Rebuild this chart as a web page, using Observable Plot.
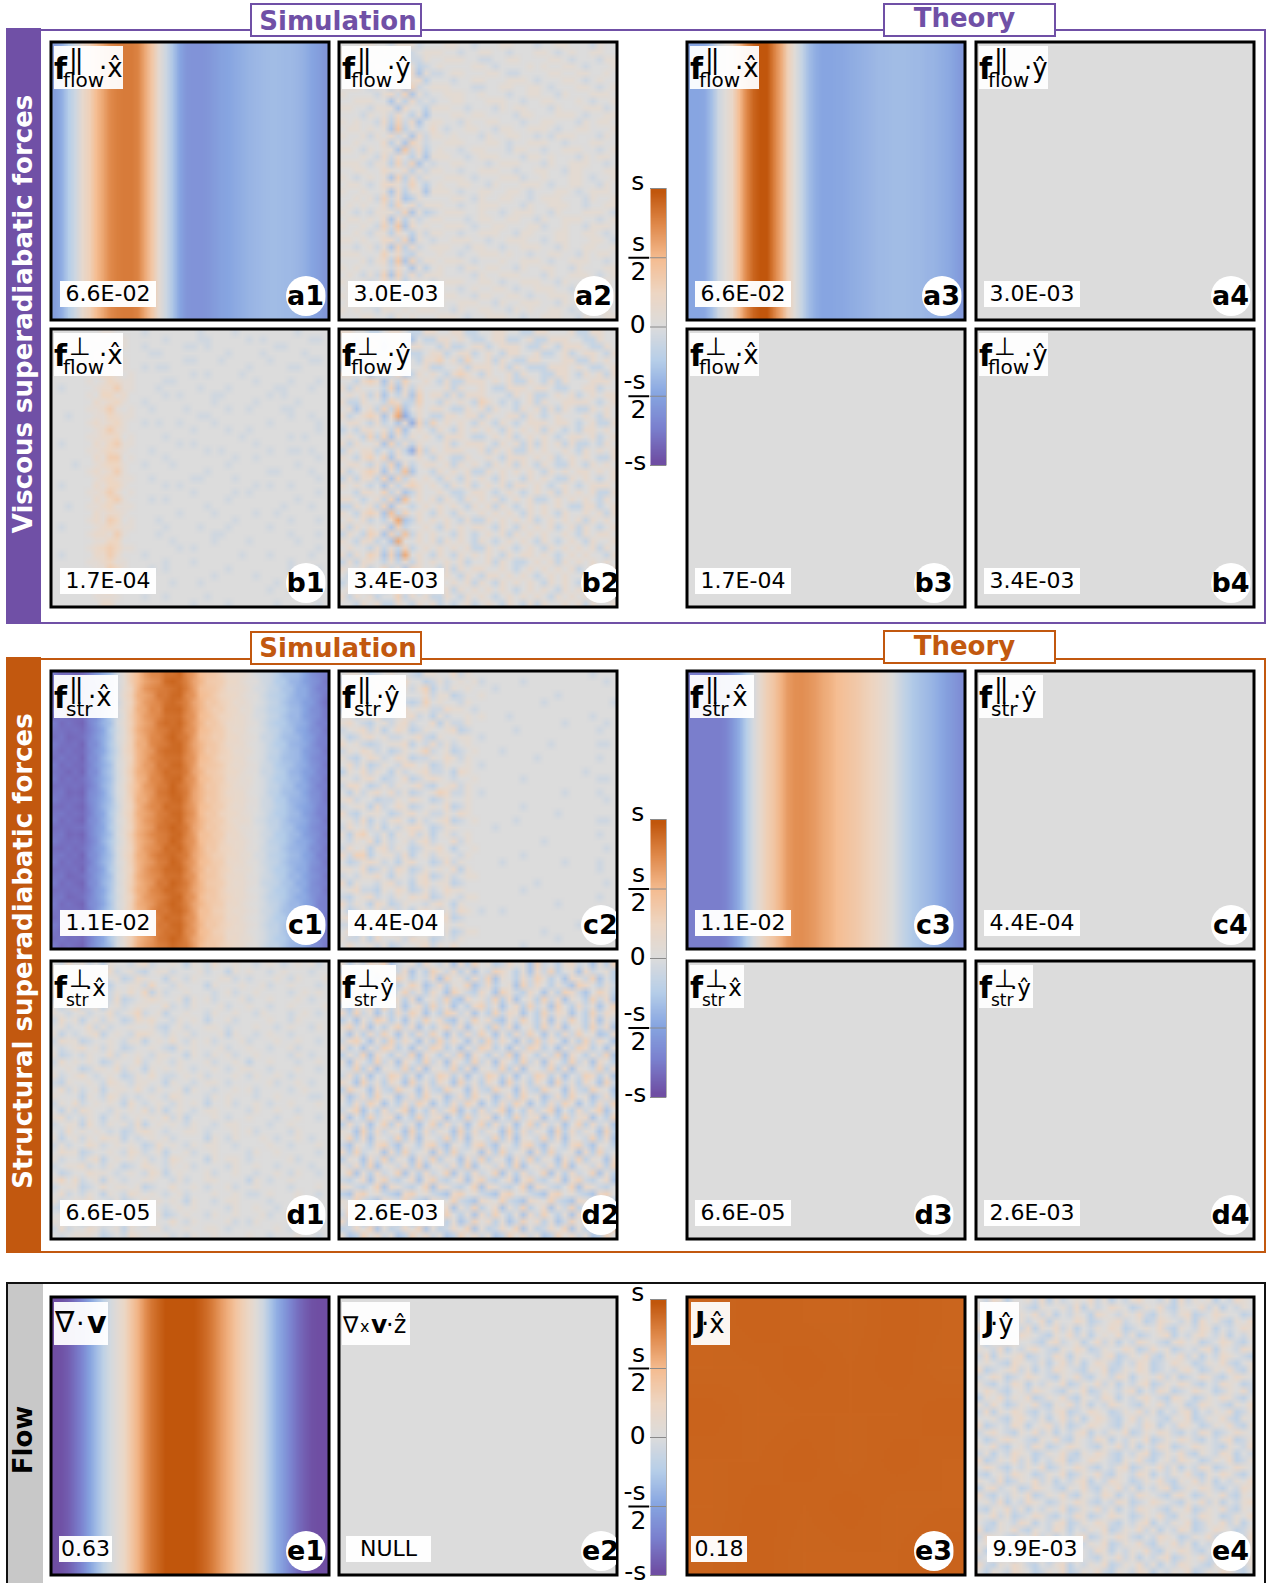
<!DOCTYPE html>
<html><head><meta charset="utf-8">
<script src="https://cdn.jsdelivr.net/npm/d3@7"></script>
<script src="https://cdn.jsdelivr.net/npm/@observablehq/plot@0.6"></script>
<style>
html,body{margin:0;background:#fff}
#fig{position:relative;width:1274px;height:1583px;overflow:hidden;font-family:"DejaVu Sans",sans-serif;color:#000}
#fig>*{position:absolute}
#fig svg{overflow:visible}
.m{position:absolute;line-height:1;white-space:pre}
</style></head><body><div id="fig"></div>
<script>
// ---------- DATA: signed values in units of s ----------
const colorDomain=[-1,-.75,-.5,-.25,0,.25,.5,.75,1];
const colorRange=["#6f4ea3","#7a80ce","#87a5e1","#b6cee9","#dcdcdc","#edd6c3","#f5bd92","#e08a4c","#c1560c"];
const barLevels=[-1,-.95,-.9,-.85,-.8,-.75,-.7,-.65,-.6,-.55,-.5,-.45,-.4,-.35,-.3,-.25,-.2,-.15,-.1,-.05,0,.05,.1,.15,.2,.25,.3,.35,.4,.45,.5,.55,.6,.65,.7,.75,.8,.85,.9,.95,1];

const a1Profile=[-.55,-.45,-.25,-.1,.15,.3,.5,.62,.75,.8,.82,.82,.78,.6,.4,.12,-.1,-.3,-.5,-.6,-.62,-.62,-.6,-.56,-.52,-.5,-.47,-.44,-.41,-.39,-.37,-.36,-.36,-.37,-.38,-.4,-.44,-.5,-.55,-.6];
const a3Profile=[-.5,-.5,-.48,-.35,-.1,.05,.2,.5,.75,.92,1,1,.8,.6,.3,.05,-.15,-.35,-.45,-.5,-.5,-.49,-.48,-.46,-.44,-.42,-.4,-.38,-.37,-.36,-.36,-.36,-.37,-.38,-.4,-.41,-.44,-.47,-.52,-.58];
const c3Profile=[-.76,-.76,-.76,-.76,-.76,-.72,-.6,-.45,-.25,-.05,.15,.32,.42,.55,.67,.72,.73,.7,.66,.6,.56,.5,.46,.42,.38,.32,.27,.2,.12,.02,-.1,-.2,-.28,-.33,-.37,-.42,-.48,-.55,-.6,-.66];
const c1Profile=[-.8,-.82,-.84,-.85,-.85,-.72,-.62,-.45,-.3,-.08,.12,.3,.5,.62,.72,.8,.86,.9,.88,.78,.66,.5,.42,.36,.3,.22,.17,.12,.07,0,-.08,-.15,-.22,-.3,-.36,-.42,-.5,-.6,-.7,-.78];
const e1Profile=[-1,-.98,-.92,-.82,-.7,-.52,-.36,-.2,-.06,.08,.22,.4,.55,.72,.85,.93,1,1,1,1,1,.95,.88,.78,.66,.56,.44,.32,.2,.05,-.1,-.3,-.45,-.58,-.72,-.84,-.92,-.98,-1,-1];

const a2Rows=[
"5556655466645556655455566555455665554655","6655546553456665545566554555665456556655","5566654447446556665544556655556654555466","5465566367634565555665455556565566545556",
"6556554835726445665556654455556655665565","5566657426673555455665556665455566545655","5665465372845666555445566556654555665456","6555546748264556665565554556655465556665",
"5566655263745455665556665545566555654556","6655466627553666554555465665554655566645","5554656475362555665665555466555666545566","6565547384725665546556655545566555465665",
"5665656293645754556655466556665455665556","6556465746274665655546556655454666555465","5565557362864556665556654556665545556655","6654656629473565545665554665545566655456",
"5556547475362666554566655546656555465665","6665466384825455665554566655546556665545","5566557657364665545566655455665546655566","6545656283746556665455566645565556654556",
"5665457764853565566554655566654556655465","6556556273662666545566556654555665456665","5565648472365555665465566554566655546556","5656557385746665545566655546556665545566",
"6545466648263456665565545666554655566654","5665657273645665554566556655465566655456","6556548492756556665455665556645565546665","5565466375364665545566655466555665566545",
"6656557748265455666554556665545665556654","5545646283745666554665545566655465566556","6665558574365565545566656554556655465665","5556467392846656665455565566654556665545",
"6565556475263565546656655465566554655566","5654648284746665555465566655546556665456","6556457563565456665566545566655465556665","5665556482746665545655665455666554655565",
"6545665375366556655466556654556665545566","5656456564655465566655465566655465566655","6565546656566655465566554656556654556665","5556655465655566654556665545566655465566"];
const b1Rows=[
"5555555665555455555554555545555555545555","5555556656655555455554455555454555555445","5555565566655455555445455555555544555555","5555556767555544555555555455554555554555",
"5554556686655555555445554555555455555445","5555566676655454455555555555455555445555","5555556776565555555545455554555555555555","5555565687665555445555555555545555455545",
"5455556779665554555554555455555544555455","5555565886755555454555544555555454555555","5555557678655455555555545555545555545555","5555566796565545555455555455455554455555",
"5545556687665555555554455555555555455455","5555567678655454554555545555555455555545","5555556797655555555545555455455555555545","5555566778565555455555555554555555454555",
"5455557689665555554545555555545555555555","5555566787655545555555454555555455445455","5555557699565555455555555545545555555545","5554556788655455545555555455555555545555",
"5555567679655555555555455555555445555455","5555556787665545555544555545555555555545","5455557688655555454555555555545455455555","5555566797565555555545555545455555555545",
"5555557689655545455555555455555555545555","5545566786665555555555455555555554555455","5555557677655555554555545555545545555555","5555567698565554555555555545555555455545",
"5455556787665555455554555455555455555555","5555567769655554555555544555555555455545","5555556688555555545555545555455555545555","5555567898665555554545555555555555555545",
"5455557797555455555555555554555455555455","5555566786655555455545555555555555455555","5555556698655545455555555455555555455545","5555567786555555555555545555545555555545",
"5545556677555555545554555555555545555555","5555556785555555555555555555555455455545","5555556666555455455555455555555555555555","5555555775555555555545555455555545555545"];
const b2Rows=[
"6655445665446655664455665544665556446655","5536654664354466565445664456446665544655","6445663564665546445664566654465466654465","5566544573445664566456546655644564566546",
"6645665463546675647556465446655566446565","4565463746556445564666564654446665654456","6655345473465654676546556465544665465646","5546763647556546446665656446546465556665",
"6465554736465556465565446665665445566455","5656463546375664646665554656445656456566","6446554764475546565476545456465566665456","5635647483565665446564655465646465446565",
"6456763692465446656646556646545655565465","5665464536274756565465465456665665456446","4546656473565465465656546565646545466565","5654747364656546665445656456565456656456",
"6465563746465556456665465646465646445465","4656645464274656665564656446565565465656","6546757365565465446556546665656456565446","5665464736456656465654656465465446546565",
"6456763648355465656446565656546565665656","4646647374656546546565465546565446565456","6565453646765654656456564665654565456665","5546657463465565445665456545656465656446",
"6654564738565646546565645656445656565465","4465647365456565654656465456565654466456","6546763847565465465565656546565465565646","5656454693465656546446565656456565646565",
"6465656374556546565665465465656456465456","4654763748465655465456564656565565465665","6546645395565646565465456565465456546556","5655464647456565656446565456546565656465",
"6465763739565465465656546566565456565546","4646654646465656564556465445656465656565","6556457463765546465665565456565656456546","5465646574465656546546656565456565565656",
"4546563646556465656465465656546565465565","5656454565645656465656565456565465656456","6465645574656446546565456565654656565465","5546564465465645456456546546465565646556"];
const c2Rows=[
"5665345655436655746555555555555555554555","4536564467553464565645555545555555555545","6465375546468354656555455555555555555555","5746465635557466345565555555555455555555",
"6345574664348565546555555555545555555554","4765446357566447665455555555555555555555","5546673456745364556565554555555555554555","6754356467455736446555555555555545555545",
"4567463576346556734555555455555555555455","5346756445674365566545555555555555555555","7564345667354746456555555555554555555445","4657645346568456345655545555555555555555",
"6435764576344657646555555555455555555455","5746346547756346556545555555555555555555","3657465364567445376555555555555555545555","6546753457346765455655555545555555555445",
"4775346465674356746555555555555555555555","5364675746345687446545555555555545555455","6745534465765346556555555555555555555545","4566374576345657346555555545555555555555",
"7435665346756446576555555555555455555555","5647354675364567345655555455555555555445","4756463546775346655555455555555555555555","6378546365746356456555555555555555555455",
"5465736456467455746555555555545555555555","4756367465346675355655555555555555555545","7488356647356466546555555545555555555555","5346764536755347465555545555555545555455",
"6657346476346565736555555555555555555455","4546675365467346456655555555555555555555","7365546745367566345555555555455555555545","5674436576346457665555555545555555555555",
"4356745465767346546655555555555555555455","7465376346554675365555555555555455555555","5346564745367546476545545555555555555545","6755346576445677345555555555555555555555",
"4466753465376456565555555555555555455555","5735465746355746346655555555545555555545","6446375564766345465555555555555455555555","5755646345567465755555555545555555555555"];
const d1Rows=[
"5475645365546745565365475565545654565645","6546356574564356645556455365655456555455","4657546456347655365465556645455565465556","5364657435566485546555365556556455655545",
"6456375546575836455655545645565555456565","4755564647345676556365645556455655565455","5368456356456655745465556455655455655556","6545645574568456355655465565546555456545",
"4756356465347675546565355645555655465555","5645574645565564356455665455565545655465","6354567356547765465645556365545655455555","4766345565466356575465645556455565565545",
"5456756465345565436565556455655455645555","6345465574656546655365465645565555465455","4756565346557456546555645565355655545565","5565346657465365656545565456655455565545",
"6456754565346575445656455565465565455555","4365565476546655365545665455555645565455","5746456356657546556365545565645555456555","6555365476454565476555465655545565555445",
"4657456565375456546565355645565455655565","5364765546565746356545665555465565545555","6745465356456565746355565455655545565545","4566375465647356565465545665555455655555",
"5475656545346765455665455565645555465555","6356465766354565645555365465556545565455","4645576456565347565465665545555655455565","5766345565476456355645565555465565555545",
"6455467356565645476555365665455555645555","4566745465345765465645555465565545555455","5345576654565476356555645565545565465545","6857456365455665546455665555365455655555",
"4566345756656345575565455645565555455565","5745465365476565456455565565445655565545","6456675546345756565365545665555455565555","4367565456675465456565555465565545555545",
"5645476365565756345655465565556455655555","6566345645476365575465555645465555565445","4745576456365566455655665455555565455555","5456665345476555645465565555655455565545"];
const d2Rows=[
"6354768245637546273856347562845367452638","4726385647253864736254875362748356274563","7463527486354728563748265374863527648253","3857264735862473658247356284753642875364",
"5284637258463752864375286437526387425863","6738254863725648327564837256384726538472","4265738462573846253784625738462853746258","7384625374862538746253847625384762538476",
"3526487352648573264857326485372648537264","6847253684725368472563847256384725638472",
"5263748526374852637485263748526374856237","4785263847526384752638475263847526384752","7352648735264873526487352648735264873526","3648275364827536482753648275364827536482",
"6275384627538462753846275384627538462753","5483726548372654837265483726548372654837","4736254873625487362548736254873625487362","7528463752846375284637528463752846375284",
"3865274386527438652743865274386527438652","6247385624738562473856247385624738562473",
"5374862537486253748625374862537486253748","4682537468253746825374682537468253746825","7253846725384672538467253846725384672538","3746258374625837462583746258374625837462",
"6528374652837465283746528374652837465283","5837265483726548372654837265483726548372","4265378426537842653784265378426537842653","7384562738456273845627384562738456273845",
"3652748365274836527483652748365274836527","6473825647382564738256473825647382564738",
"5826374582637458263745826374582637458263","4357268435726843572684357268435726843572","7643582764358276435827643582764358276435","3278564327856432785643278564327856432785",
"6584327658432765843276584327658432765843","5726483572648357264835726483572648357264","4853627485362748536274853627485362748536","7362485736248573624857362485736248573624",
"3475826347582634758263475826347582634758","6238574623857462385746238574623857462385"];
const e4Rows=[
"5476355647364565746354675546374656354765","6354765436556473645765346574365574635465","4765346574635465376546574365467345765534","5546736457365576345674563476546375643657",
"7345564736574635465763456574365476354576","4675437654365746356574634567354675463546","5364765543674563574635476543675634576435","6547354675436576346557634756345467365476",
"4736567345476365546734657436574635476543","5654376546357463576435476345765346574356",
"7345674635476543657346576345467534657436","4576345765436574356476356574634576435765","6435476354657346574635467346576435476534","5764356476543657346546735476345765346574",
"3657465734657436547635467543765346576435","6475346574365746354765436574563476543657","4736576435467345765346574635467354657346","5564367546357463576435746543657346574365",
"7345476356746345765436547635476534657436","4675436574635467354657346576435476345765",
"5346765436574365476354657346576435467346","6574356476345765436574635476345765436547","4635476534657436576435467346574365476354","7346574635467345765436574356476534657346",
"5764354657346576435467346574635476345765","4356476534657346574365476354657436576435","6547346574635467354765346574365746354657","3674563476543657436574635467346576435476",
"7435465734657436547635476543675346574365","5647354765346576435476345765436574635467",
"4365746354657346574635476543657346574365","6574634576435476345765346574365476534657","5436547635467346576435467354657346574635","7346574365476354657346574635476345765346",
"4765436574635467346576435476534657436547","5634576435476534657346574365746354765436","6345765346574365476354657436576435467346","4574635476345765436574635467346574365476",
"7436576435467354657346574635476543657346","5365476534657346574365476354657346576435"];
const c1Mottle=[
"6454546545565664546455565456545654565456","5463655456465543665546456565465646454565","6546364565546765446654565456546565646546","4655467546657546456465654565465456546565",
"5464556654546654554546465646556565454654","6546465456557563656556546564645456565465","4655564565466654545465654656546565464565","6465456646556546646556465456565446556546",
"5556545465467655455465656546456565645465","4645656556456564564654546565564654565656","6556464565557465456546565456456546456546","5465556454656546656556465645656565564565",
"4656465665546565545465654656456454565456","6465556546456646456554566546565645656565","5546464655567555645646455565464656454656","6465656545456464556465656454656546565465",
"4556545656565655464556465645556565646546","5645465456466546565646565456456454565465","6556566545557455456546465656565646456565","4465456654546664645455656546465656545656",
"5656546465657545456565464565556546564546","6465465556456655546456556546645465456565","4556656465546546565646465654556565645456","5645456546567665456554656465465646564565",
"6556545665456545465465565456556456546656","4465656456546654646556464656465565456465","5656465545657566554646545565646456565646","6465546656456545465455656456465565456565",
"4556465465546665656546465645656546546456","5645656546457654545465565456465656465565","6465465655556546465656456546564565646456","4556546456467565654546565456456546565465",
"5645656565546654456465465656565456546556","6465465456457545565546556465456565465646","5556546665556466456654645546565654565456","4645465456467555645465556465456546456565",
"6556656545546646456556465656565465646546","5465465656457565546465645456456565464565","4656546465556546565546556465656546565456","6465456546467655454655465656465465456565"];
const e3Rows=["565465","456564","645556","556465","465645","564556"];

const zeros=[0];
const decode=(rows,step)=>rows.flatMap(r=>[...(r.length>6?r.padEnd(40,"5").slice(0,40):r)].map(c=>(+c-5)*step));
const a2=decode(a2Rows,.1), b1=decode(b1Rows,.085), b2=decode(b2Rows,.15), c2=decode(c2Rows,.1),
      d1=decode(d1Rows,.09), d2=decode(d2Rows,.1), e4=decode(e4Rows,.1);
const c1=c1Mottle.flatMap(r=>[...r].map((c,i)=>c1Profile[i]+(+c-5)*.03));
const e3=decode(e3Rows,.006).map(v=>v+.93);

const panels=[
 {vals:a1Profile,n:40,m:1,col:0,row:0,val:"6.6E-02",tag:"a1",lab:["f","||","flow","x"]},
 {vals:a2,n:40,m:40,col:1,row:0,val:"3.0E-03",tag:"a2",lab:["f","||","flow","y"]},
 {vals:a3Profile,n:40,m:1,col:2,row:0,val:"6.6E-02",tag:"a3",lab:["f","||","flow","x"]},
 {vals:zeros,n:1,m:1,col:3,row:0,val:"3.0E-03",tag:"a4",lab:["f","||","flow","y"]},
 {vals:b1,n:40,m:40,col:0,row:1,val:"1.7E-04",tag:"b1",lab:["f","⊥","flow","x"]},
 {vals:b2,n:40,m:40,col:1,row:1,val:"3.4E-03",tag:"b2",tagShift:7,lab:["f","⊥","flow","y"]},
 {vals:zeros,n:1,m:1,col:2,row:1,val:"1.7E-04",tag:"b3",tagShift:-8,lab:["f","⊥","flow","x"]},
 {vals:zeros,n:1,m:1,col:3,row:1,val:"3.4E-03",tag:"b4",lab:["f","⊥","flow","y"]},
 {vals:c1,n:40,m:40,col:0,row:2,val:"1.1E-02",tag:"c1",lab:["f","||","str","x"]},
 {vals:c2,n:40,m:40,col:1,row:2,val:"4.4E-04",tag:"c2",tagShift:7,lab:["f","||","str","y"]},
 {vals:c3Profile,n:40,m:1,col:2,row:2,val:"1.1E-02",tag:"c3",tagShift:-8,lab:["f","||","str","x"]},
 {vals:zeros,n:1,m:1,col:3,row:2,val:"4.4E-04",tag:"c4",lab:["f","||","str","y"]},
 {vals:d1,n:40,m:40,col:0,row:3,val:"6.6E-05",tag:"d1",lab:["f","⊥","str","x"]},
 {vals:d2,n:40,m:40,col:1,row:3,val:"2.6E-03",tag:"d2",tagShift:7,lab:["f","⊥","str","y"]},
 {vals:zeros,n:1,m:1,col:2,row:3,val:"6.6E-05",tag:"d3",tagShift:-8,lab:["f","⊥","str","x"]},
 {vals:zeros,n:1,m:1,col:3,row:3,val:"2.6E-03",tag:"d4",lab:["f","⊥","str","y"]},
 {vals:e1Profile,n:40,m:1,col:0,row:4,val:"0.63",tag:"e1",lab:["div"]},
 {vals:zeros,n:1,m:1,col:1,row:4,val:"NULL",tag:"e2",tagShift:7,lab:["curl"]},
 {vals:e3,n:6,m:6,col:2,row:4,val:"0.18",tag:"e3",tagShift:-8,lab:["J","x"]},
 {vals:e4,n:40,m:40,col:3,row:4,val:"9.9E-03",tag:"e4",lab:["J","y"]}
];
const tickValues=[1,.5,0,-.5,-1];
const fracValues=[.5,-.5];
const tickLabels=[{y:1,t:"s"},{y:.5,t:"s",frac:"top"},{y:.5,t:"2",frac:"bot"},{y:0,t:"0"},{y:-.5,t:"-s",frac:"top"},{y:-.5,t:"2",frac:"bot"},{y:-1,t:"-s"}];

// ---------- LAYOUT ----------
const fig=document.getElementById("fig");
const colX=[49,337,685,974], rowY=[40,327,669,959,1295], PW=281, PH=281;
const PURPLE="#7050a6", ORANGE="#c2580f";
const color={type:"linear",domain:colorDomain,range:colorRange,clamp:true};

function el(css,text){const d=document.createElement("div");d.style.cssText=css;if(text!=null)d.textContent=text;fig.appendChild(d);return d;}
function band(x,y,w,h,c){el(`left:${x}px;top:${y}px;width:${w}px;height:${h}px;background:${c}`);}
function frame(y,h,c){el(`left:41px;top:${y}px;width:1225px;height:${h}px;box-sizing:border-box;border:2.5px solid ${c};border-left:0`);}
function tab(x,y,w,c,t,ty,tx){
  el(`left:${x}px;top:${y}px;width:${w}px;height:34px;box-sizing:border-box;border:2.5px solid ${c};background:#fff`);
  el(`left:${x+tx}px;top:${ty}px;width:${w}px;text-align:center;font:bold 26px/30px "DejaVu Sans";color:${c}`,t);
}
function side(cx,cy,t,c){el(`left:${cx}px;top:${cy}px;white-space:nowrap;font:bold 26px/30px "DejaVu Sans";color:${c};transform:translate(-50%,-50%) rotate(-90deg)`,t);}

frame(29,595,PURPLE); band(6,28,35,596,PURPLE);
tab(250,3,172,PURPLE,"Simulation",6,2); tab(883,3,173,PURPLE,"Theory",3,-5);
side(23,314,"Viscous superadiabatic forces","#fff");
frame(658,595,ORANGE); band(6,657,35,596,ORANGE);
tab(250,631,172,ORANGE,"Simulation",633,2); tab(883,630,173,ORANGE,"Theory",631,-5);
side(23,951,"Structural superadiabatic forces","#fff");
el(`left:6px;top:1282px;width:1260px;height:320px;box-sizing:border-box;border:2px solid #111`);
band(8,1284,35,300,"#c8c8c8");
side(23,1440,"Flow","#000");

function heat(p){
  return Plot.plot({width:PW,height:PH,margin:1.5,
    style:{background:"transparent"},
    x:{axis:null,domain:[0,p.n]},y:{axis:null,domain:[0,p.m],reverse:true},color,
    marks:[
      Plot.raster(p.vals,{width:p.n,height:p.m,x1:0,x2:p.n,y1:0,y2:p.m,fill:d=>d,imageRendering:"auto"}),
      Plot.frame({stroke:"#000",strokeWidth:3})
    ]});
}
function place(node,x,y){node.style.position="absolute";node.style.left=x+"px";node.style.top=y+"px";fig.appendChild(node);}

function span(box,t,x,base,size,bold,extra){
  const s=document.createElement("span");s.className="m";s.textContent=t;
  s.style.cssText+=`left:${x}px;top:${base-.846*size}px;font-size:${size}px;font-weight:${bold?"bold":"normal"};${extra||""}`;
  box.appendChild(s);
}
function mathLabel(p,x,y){
  const kind=p.lab[0];
  const hat={x:"x\u0302",y:"y\u0302",z:"z\u0302"};
  let w;
  if(kind==="f"){const [,sup,sub,comp]=p.lab;
    const flow=sub==="flow",perp=sup==="⊥";
    w=flow?69:(perp?54:64);
    const b=el(`left:${x+5}px;top:${y+6}px;width:${w}px;height:43px;background:rgba(255,255,255,.94)`);
    span(b,"f",0,33,30,true);
    span(b,sup,15,22,perp?25:26,false,perp?"":"letter-spacing:-3px");
    span(b,sub,flow?9:12,41,flow?20:perp?17:20,false);
    const dx=flow?45:(perp?31:34);
    span(b,"·"+hat[comp],dx,31,perp&&!flow?23:26,false);
  } else if(kind==="div"){
    const b=el(`left:${x+5}px;top:${y+7}px;width:54px;height:43px;background:rgba(255,255,255,.94)`);
    span(b,"∇",1,31,29,false); span(b,"·",22,31,27,false); span(b,"v",33,31,30,true);
  } else if(kind==="curl"){
    const b=el(`left:${x+5}px;top:${y+7}px;width:68px;height:43px;background:rgba(255,255,255,.94)`);
    span(b,"∇",1,31,23,false); span(b,"x",18,31,16,false); span(b,"v",29,31,25,true); span(b,"·"+hat.z,44,31,24,false);
  } else {
    const comp=p.lab[1];
    const b=el(`left:${x+6}px;top:${y+7}px;width:39px;height:43px;background:rgba(255,255,255,.94)`);
    span(b,"J",4,31,28,true); span(b,"·"+hat[comp],10,31,26,false);
  }
}

for(const p of panels){
  const x=colX[p.col],y=rowY[p.row];
  place(heat(p),x,y);
  mathLabel(p,x,y);
  const short=p.row===4&&(p.val.length<5);
  const vw=p.val==="NULL"?85:short?(p.col===2?56:53):96;
  const vx=p.val==="NULL"?9:p.row===4&&p.col===3?13:p.row===4?(p.col===2?6:10):p.col>=2?10:11;
  const vt=PH-40;
  el(`left:${x+vx}px;top:${y+vt}px;width:${vw}px;height:26px;background:rgba(255,255,255,.97);text-align:center;font:22px/26px "DejaVu Sans"`,p.val);
  const off=24.5-(p.tagShift||0);
  const tx=x+PW-off, ty=y+PH-25;
  el(`left:${tx-20}px;top:${ty-20}px;width:40px;height:40px;border-radius:50%;background:#fff;clip-path:inset(0 ${Math.max(0,tx+20-(x+PW-2))}px 0 0)`);
  el(`left:${tx-22}px;top:${ty-16}px;width:44px;text-align:center;font:bold 27px/32px "DejaVu Sans"`,p.tag);
}

function colorbar(top,h){
  const mt=14,mb=14;
  const txt=(rows,x,dy)=>Plot.text(rows,{x,y:"y",text:"t",fontSize:25,fill:"#000",dy});
  const s=Plot.plot({width:48,height:h+mt+mb,marginLeft:0,marginRight:0,marginTop:mt,marginBottom:mb,
    style:{background:"transparent",fontFamily:"DejaVu Sans"},
    x:{axis:null,domain:[-2,1]},y:{axis:null,domain:[-1,1]},color,
    marks:[
      Plot.raster(barLevels,{width:1,height:barLevels.length,x1:0,x2:1,y1:-1,y2:1,fill:d=>d,imageRendering:"auto"}),
      Plot.ruleY(tickValues,{x1:0,x2:1,stroke:"#8a8a8a",strokeWidth:1}),
      Plot.ruleX([1],{stroke:"#b0b0b0",strokeWidth:1}),
      Plot.ruleY(fracValues,{x1:-1.35,x2:-.05,stroke:"#000",strokeWidth:2}),
      txt(tickLabels.filter(d=>!d.frac&&d.y===1),-.8,-7),
      txt(tickLabels.filter(d=>!d.frac&&d.y===0),-.8,-2),
      txt(tickLabels.filter(d=>!d.frac&&d.y===-1),-.95,-4),
      txt(tickLabels.filter(d=>d.frac==="top"),d=>d.y<0?-1:-.75,-15),
      txt(tickLabels.filter(d=>d.frac==="bot"),-.75,14)
    ]});
  place(s,618,top-mt);
}
colorbar(188,277); colorbar(819,278); colorbar(1299,276);
</script></body></html>
